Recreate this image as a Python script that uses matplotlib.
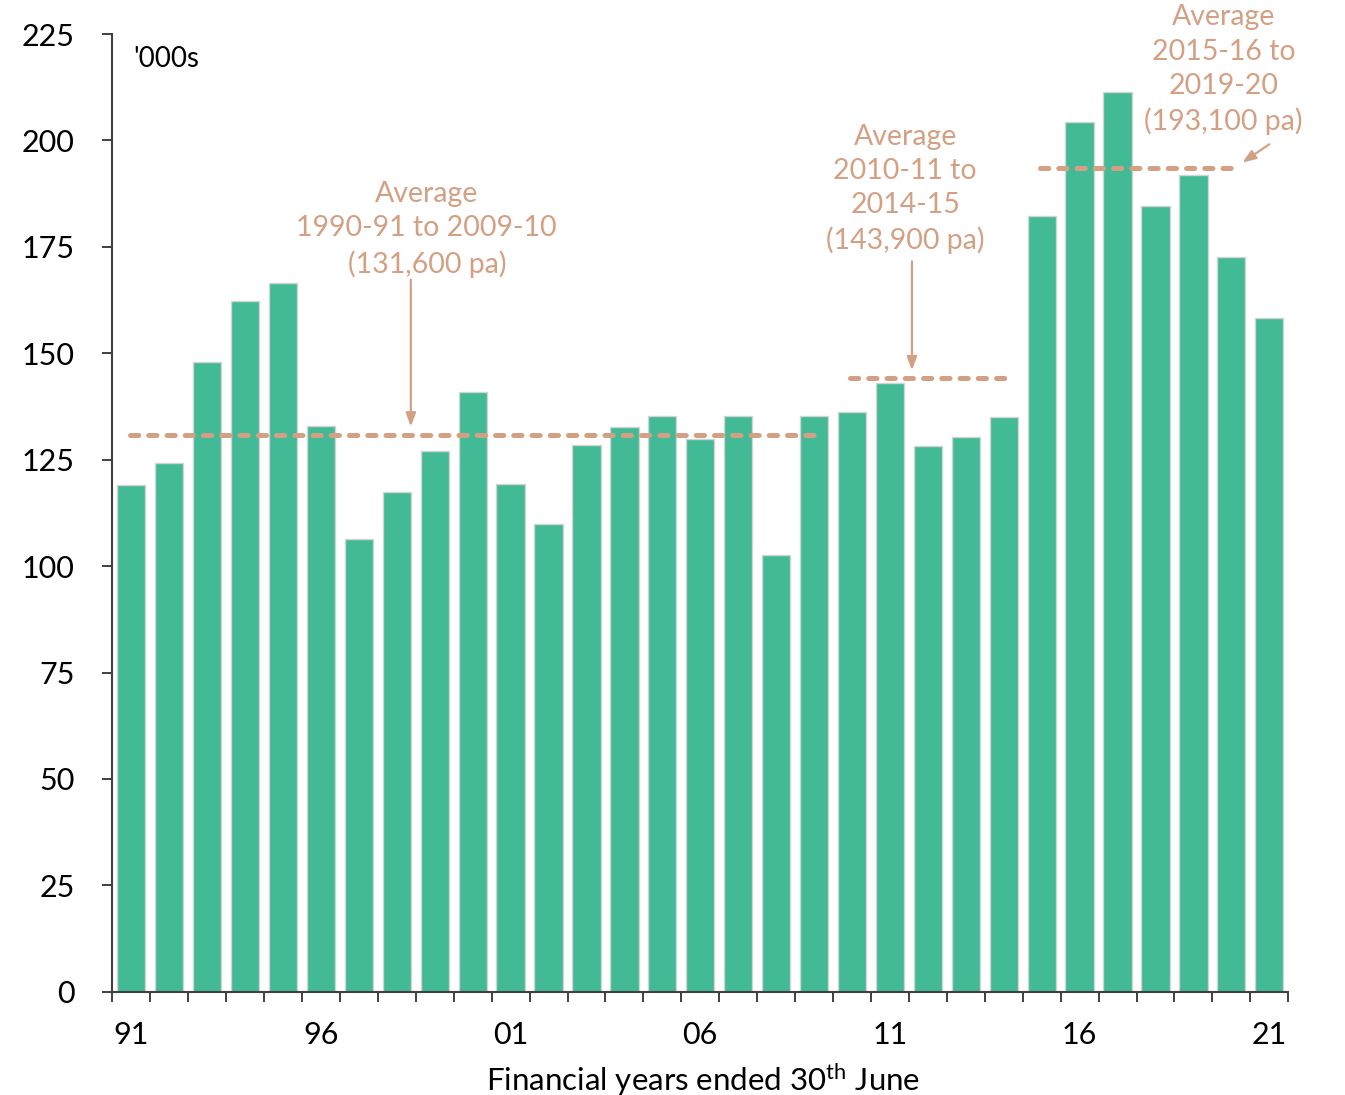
import numpy as np
import matplotlib
matplotlib.use("Agg")
import matplotlib.pyplot as plt

# ---- data (thousands) ----
years = ["91", "92", "93", "94", "95", "96", "97", "98", "99", "00",
         "01", "02", "03", "04", "05", "06", "07", "08", "09", "10",
         "11", "12", "13", "14", "15", "16", "17", "18", "19", "20", "21"]
values = [119.0, 124.3, 148.0, 162.4, 166.4, 133.0, 106.4, 117.4, 127.1, 141.0,
          119.3, 109.9, 128.5, 132.7, 135.3, 129.9, 135.3, 102.6, 135.3, 136.3,
          143.1, 128.3, 130.4, 135.1, 182.2, 204.3, 211.3, 184.5, 192.0, 172.7, 158.4]
shown_labels = ["91", "96", "01", "06", "11", "16", "21"]

# average lines as drawn in the picture
avg_values = [130.7, 144.3, 193.6]
avg_spans = [(-0.03, 18.02), (18.94, 23.03), (23.95, 29.05)]
avg_texts = ["Average\n1990-91 to 2009-10\n(131,600 pa)",
             "Average\n2010-11 to\n2014-15\n(143,900 pa)",
             "Average\n2015-16 to\n2019-20\n(193,100 pa)"]

BAR = "#43BA96"
TAN = "#D4A083"
AX = "#404040"
FONT = ["Lato", "DejaVu Sans"]

plt.rcParams["font.family"] = FONT
plt.rcParams["mathtext.fontset"] = "custom"
plt.rcParams["mathtext.rm"] = "Lato"

fig = plt.figure(figsize=(13.45, 10.95), dpi=100)
ax = fig.add_axes([0.0835, 0.0943, 0.8743, 0.8746])

x = np.arange(len(years))
ax.bar(x, values, width=0.746, color=BAR, edgecolor="#D3D3D3", linewidth=1.0, zorder=2)

for v, (a, b) in zip(avg_values, avg_spans):
    ax.plot([a, b], [v, v], color=TAN, lw=3.6, ls=(0, (1.65, 2.0)),
            dash_capstyle="round", solid_capstyle="round", zorder=3)

akw = dict(color=TAN, fontsize=20.5, ha="center", va="center", linespacing=1.39)
aprops = dict(arrowstyle="-|>,head_width=0.3,head_length=0.8", color=TAN, lw=1.6,
              shrinkA=0, shrinkB=0)
ax.text(7.79, 179.1, avg_texts[0], **akw)
ax.annotate("", xy=(7.37, 132.8), xytext=(7.37, 167.3), arrowprops=aprops)
ax.text(20.4, 188.6, avg_texts[1], **akw)
ax.annotate("", xy=(20.58, 146.0), xytext=(20.58, 171.6), arrowprops=aprops)
ax.text(28.79, 216.6, avg_texts[2], **akw)
ax.annotate("", xy=(29.29, 194.8), xytext=(30.0, 199.1), arrowprops=aprops)

ax.set_xlim(-0.5, len(years) - 0.5)
ax.set_ylim(0, 225)
ax.set_yticks(np.arange(0, 226, 25))

pos = [years.index(s) for s in shown_labels]
ax.set_xticks(pos)
ax.set_xticklabels(shown_labels)
ax.set_xticks(np.arange(-0.5, len(years)), minor=True)
ax.tick_params(axis="x", which="major", length=0, pad=21, labelsize=22, colors="black")
ax.tick_params(axis="x", which="minor", length=7, width=1.4, color=AX, direction="out")
ax.tick_params(axis="y", length=7, width=1.4, color=AX, direction="out", pad=20, labelsize=22)

for s in ("top", "right"):
    ax.spines[s].set_visible(False)
for s in ("left", "bottom"):
    ax.spines[s].set_color(AX)
    ax.spines[s].set_linewidth(1.5)

ax.text(0.018, 0.988, "'000s", transform=ax.transAxes, fontsize=20, va="top", ha="left")
fig.text(0.523, 0.0146, "Financial years ended 30$^{\\mathrm{th}}$ June", fontsize=22.5,
         ha="center", va="center")

fig.savefig("out.png", dpi=100)
